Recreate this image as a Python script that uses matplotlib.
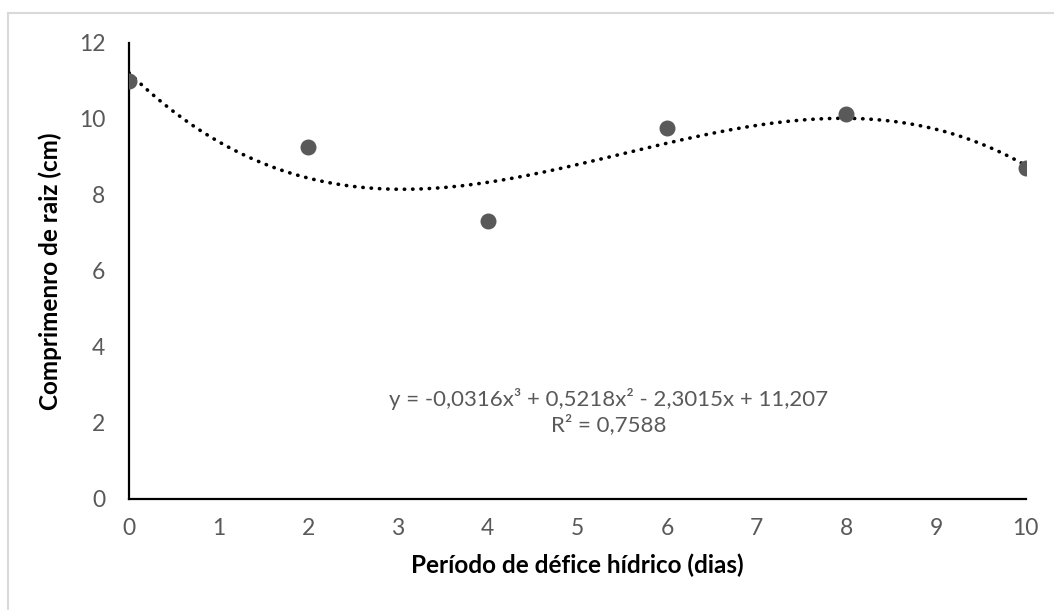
import numpy as np
import matplotlib
matplotlib.use("Agg")
import matplotlib.pyplot as plt
from matplotlib.lines import Line2D

plt.rcParams["font.family"] = ["Lato", "DejaVu Sans"]

# observed values
dias = [0, 2, 4, 6, 8, 10]
comprimento = [11.0, 9.27, 7.32, 9.76, 10.12, 8.70]

# cubic trendline coefficients (highest power first), as shown in the equation
coef = [-0.0316, 0.5218, -2.3015, 11.207]
r2 = "0,7588"

x_ticks = list(range(0, 11))
y_ticks = [0, 2, 4, 6, 8, 10, 12]

fig = plt.figure(figsize=(10.54, 6.10), dpi=100)
ax = fig.add_axes([0.1224, 0.182, 0.8508, 0.748])

xs = np.linspace(0, 10, 200)
ax.plot(xs, np.polyval(coef, xs), color="black", lw=2.6, ls=(0, (0.1, 2.2)),
        dash_capstyle="round", zorder=2)
ax.plot(dias, comprimento, "o", color="#595959", ms=10.5, zorder=3)

ax.set_xlim(0, 10)
ax.set_ylim(0, 12)
ax.set_xticks(x_ticks)
ax.set_yticks(y_ticks)
ax.tick_params(length=0, labelsize=16.5, labelcolor="#595959")
ax.tick_params(axis="x", pad=14)
ax.tick_params(axis="y", pad=17)
for s in ("top", "right"):
    ax.spines[s].set_visible(False)
for s in ("left", "bottom"):
    ax.spines[s].set_linewidth(1.6)
    ax.spines[s].set_color("black")
ax.spines["bottom"].set_zorder(1)

ax.set_xlabel("Período de défice hídrico (dias)", fontsize=17.5,
              fontweight="bold", labelpad=10)
ax.set_ylabel("Comprimenro de raiz (cm)", fontsize=17.5,
              fontweight="bold", labelpad=12)

eq = "y = -0,0316x³ + 0,5218x² - 2,3015x + 11,207\nR² = " + r2
ax.text(5.35, 2.3, eq, ha="center", va="center",
        multialignment="center", fontsize=16, color="#595959",
        linespacing=1.3)

# light frame of the chart area
fig.add_artist(Line2D([8 / 1054, 1.0], [1 - 13 / 610] * 2, color="#d9d9d9", lw=1.5))
fig.add_artist(Line2D([8 / 1054] * 2, [0.0, 1 - 13 / 610], color="#d9d9d9", lw=1.5))

fig.savefig("out.png", dpi=100)
